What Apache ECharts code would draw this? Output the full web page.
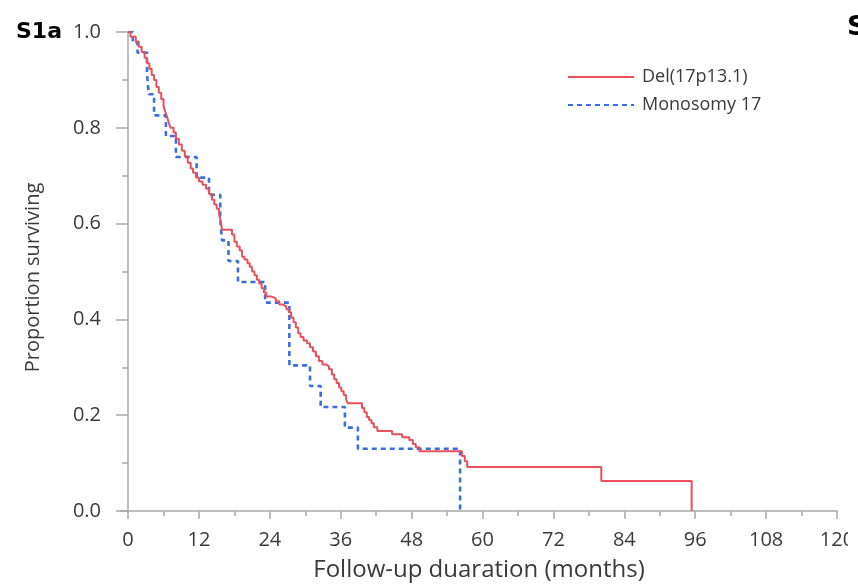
<!DOCTYPE html>
<html>
<head>
<meta charset="utf-8">
<script src="https://cdn.jsdelivr.net/npm/echarts@6/dist/echarts.min.js"></script>
<style>
  html, body { margin: 0; padding: 0; background: #ffffff; }
  #chart { width: 858px; height: 587px; }
</style>
</head>
<body>
<div id="chart"></div>
<script>
// Axis ticks (months)
const xTicks = [0, 12, 24, 36, 48, 60, 72, 84, 96, 108, 120];
const xMinorTicks = [6, 18, 30, 42, 54, 66, 78, 90, 102, 114];

const seriesNames = ['Del(17p13.1)', 'Monosomy 17'];

// Kaplan–Meier estimates: time of each drop (months) and survival after it
const delTimes = [0, 0.4, 1.3, 1.8, 2.3, 2.8, 3.2, 3.6, 4.0, 4.4, 4.8, 5.2, 5.6, 6.0, 6.3, 6.6, 6.9, 7.2, 7.7, 8.1,
  8.6, 9.1, 9.6, 10.1, 10.6, 11.0, 11.5, 12.0, 12.6, 13.2, 13.7, 14.2, 14.6, 15.0, 15.4, 15.7, 15.9, 17.6, 18.0, 18.4,
  18.9, 19.3, 19.7, 20.2, 20.6, 21.0, 21.4, 21.8, 22.2, 22.6, 23.0, 23.4, 24.2, 25.0, 25.6, 26.2, 26.8, 27.2, 27.6, 28.0,
  28.4, 28.8, 29.2, 29.7, 30.3, 30.8, 31.3, 31.8, 32.3, 32.9, 33.5, 34.0, 34.5, 34.9, 35.3, 35.7, 36.1, 36.5, 36.9, 37.2,
  39.6, 40.0, 40.4, 40.8, 41.2, 41.6, 42.2, 44.7, 46.4, 47.6, 48.2, 48.7, 49.3, 56.5, 57.0, 57.4, 80.1, 95.4];
const delSurv = [1.0, 0.99, 0.98, 0.969, 0.958, 0.946, 0.935, 0.923, 0.91, 0.9, 0.885, 0.873, 0.86, 0.846, 0.833, 0.823, 0.81, 0.8, 0.79, 0.777,
  0.765, 0.752, 0.74, 0.727, 0.715, 0.706, 0.696, 0.688, 0.681, 0.673, 0.662, 0.65, 0.64, 0.631, 0.619, 0.604, 0.587, 0.577, 0.562, 0.552,
  0.544, 0.531, 0.525, 0.517, 0.51, 0.5, 0.492, 0.483, 0.475, 0.465, 0.456, 0.448, 0.444, 0.438, 0.431, 0.427, 0.421, 0.415, 0.404, 0.394,
  0.383, 0.371, 0.363, 0.356, 0.35, 0.342, 0.333, 0.323, 0.313, 0.306, 0.302, 0.296, 0.285, 0.275, 0.267, 0.258, 0.25, 0.242, 0.233, 0.225,
  0.215, 0.206, 0.196, 0.19, 0.183, 0.175, 0.167, 0.16, 0.154, 0.148, 0.14, 0.133, 0.125, 0.115, 0.104, 0.092, 0.0625, 0];

const monoTimes = [0, 0.8, 1.6, 3.2, 3.5, 4.4, 6.4, 8.1, 11.6, 13.7, 15.6, 15.9, 17.0, 18.6, 23.2, 27.3, 30.8, 32.6, 36.7, 38.9, 56.2];
const monoSurv = [1.0, 0.978, 0.957, 0.913, 0.870, 0.826, 0.783, 0.739, 0.696, 0.66, 0.609, 0.565, 0.522, 0.478, 0.435, 0.304, 0.261, 0.217, 0.174, 0.130, 0];

const pairs = (t, s) => t.map((v, i) => [v, s[i]]);

const axisColor = '#a8a8a8';
const textColor = '#3a3a3a';
const font = "'Open Sans', sans-serif";

const chart = echarts.init(document.getElementById('chart'), null, { renderer: 'canvas' });

chart.setOption({
  animation: false,
  backgroundColor: '#ffffff',
  grid: { left: 121, right: 21, top: 32, bottom: 75 },
  title: [
    { text: 'S1a', left: 11, top: 16,
      textStyle: { fontFamily: 'DejaVu Sans', fontWeight: 'bold', fontSize: 22, color: '#000' } },
    { text: 'S1b', left: 842, top: 9, z: 20,
      textStyle: { fontFamily: 'DejaVu Sans', fontWeight: 'bold', fontSize: 27, color: '#000' } }
  ],
  graphic: [
    // edge of the neighbouring panel
    { type: 'rect', right: 0, top: 0, z: 10, shape: { width: 10, height: 587 }, style: { fill: '#ffffff' } }
  ],
  legend: {
    orient: 'vertical',
    left: 562,
    top: 61,
    itemWidth: 66,
    itemHeight: 14,
    itemGap: 6,
    data: seriesNames,
    itemStyle: { opacity: 0 },
    textStyle: { fontFamily: font, fontSize: 18, color: textColor, padding: [0, 0, 0, 3], lineHeight: 22 }
  },
  xAxis: [
    {
      type: 'value', min: -1.2, max: 120,
      name: 'Follow-up duaration (months)',
      nameLocation: 'middle', nameGap: 47,
      nameTextStyle: { fontFamily: font, fontSize: 24, color: textColor },
      axisLine: { show: true, lineStyle: { color: axisColor, width: 1.5 } },
      axisTick: { show: true, customValues: xTicks, length: 8, lineStyle: { color: axisColor, width: 1.5 } },
      axisLabel: { customValues: xTicks, margin: 19, fontFamily: font, fontSize: 20, color: textColor },
      splitLine: { show: false }
    },
    {
      type: 'value', min: -1.2, max: 120, position: 'bottom',
      axisLine: { show: false },
      axisTick: { show: true, customValues: xMinorTicks, length: 5, lineStyle: { color: axisColor, width: 1.5 } },
      axisLabel: { show: false },
      splitLine: { show: false }
    }
  ],
  yAxis: {
    type: 'value', min: 0, max: 1, interval: 0.2,
    name: 'Proportion surviving',
    nameLocation: 'middle', nameGap: 78,
    nameTextStyle: { fontFamily: font, fontSize: 20, color: textColor, padding: [0, 12, 0, 0] },
    axisLine: { show: true, lineStyle: { color: axisColor, width: 1.5 } },
    axisTick: { show: true, length: 12, lineStyle: { color: axisColor, width: 1.5 } },
    minorTick: { show: true, splitNumber: 2, length: 6, lineStyle: { color: axisColor, width: 1.5 } },
    axisLabel: { margin: 20, fontFamily: font, fontSize: 20, color: textColor, formatter: v => v.toFixed(1) },
    splitLine: { show: false },
    minorSplitLine: { show: false }
  },
  series: [
    {
      name: seriesNames[0], type: 'line', step: 'end', xAxisIndex: 0,
      data: pairs(delTimes, delSurv),
      symbol: 'none', showSymbol: false, z: 3,
      lineStyle: { color: '#e8505c', width: 2 },
      itemStyle: { color: '#e8505c' }
    },
    {
      name: seriesNames[1], type: 'line', step: 'end', xAxisIndex: 0,
      data: pairs(monoTimes, monoSurv),
      symbol: 'none', showSymbol: false, z: 2,
      lineStyle: { color: '#3a6ee0', width: 2.6, type: [5, 4] },
      itemStyle: { color: '#3a6ee0' }
    }
  ]
});
</script>
</body>
</html>
